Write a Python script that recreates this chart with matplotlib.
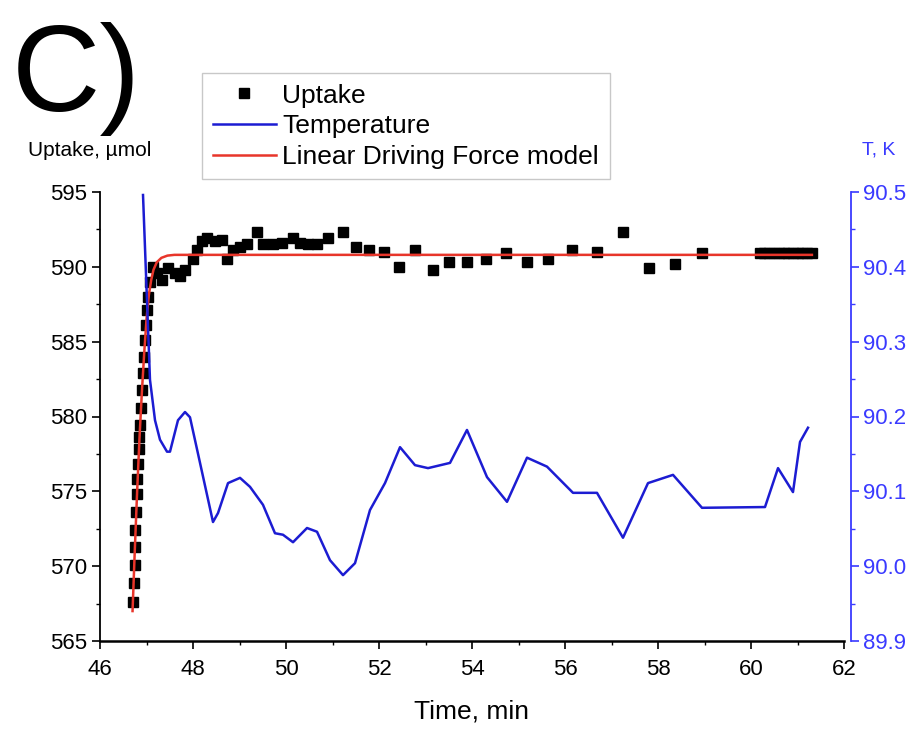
import matplotlib
matplotlib.use("Agg")
import matplotlib.pyplot as plt
from matplotlib.ticker import MultipleLocator
from matplotlib.lines import Line2D

plt.rcParams['font.family'] = ['Liberation Sans', 'DejaVu Sans']

# uptake measurements, min / umol
uptake_time = [46.710, 46.731, 46.742, 46.753, 46.763, 46.774, 46.796, 46.806, 46.817, 46.839,
               46.849, 46.860, 46.882, 46.903, 46.925, 46.946, 46.968, 46.989, 47.011, 47.032,
               47.08, 47.14, 47.23, 47.33, 47.46, 47.61, 47.72, 47.83, 48.00,
               48.09, 48.19, 48.30, 48.47, 48.62, 48.73, 48.86, 49.01, 49.16, 49.38,
               49.51, 49.72, 49.91, 50.15, 50.30, 50.47, 50.67, 50.90, 51.23, 51.51,
               51.78, 52.11, 52.43, 52.77, 53.16, 53.51, 53.89, 54.30, 54.73, 55.18,
               55.63, 56.15, 56.69, 57.25, 57.81, 58.37, 58.95,
               60.19, 60.29, 60.39, 60.50, 60.60, 60.70, 60.80, 60.90, 61.00, 61.10, 61.20, 61.31]
uptake = [567.6, 568.9, 570.1, 571.3, 572.4, 573.6, 574.8, 575.8, 576.8, 577.8,
          578.6, 579.4, 580.6, 581.8, 582.9, 584.0, 585.1, 586.1, 587.1, 588.0,
          589.0, 590.0, 589.6, 589.1, 589.9, 589.6, 589.4, 589.8, 590.5,
          591.1, 591.7, 591.9, 591.7, 591.8, 590.5, 591.1, 591.3, 591.5, 592.3,
          591.5, 591.5, 591.6, 591.9, 591.6, 591.5, 591.5, 591.9, 592.3, 591.3,
          591.1, 591.0, 590.0, 591.1, 589.8, 590.3, 590.3, 590.5, 590.9, 590.3,
          590.5, 591.1, 591.0, 592.3, 589.9, 590.2, 590.9,
          590.9, 590.9, 590.9, 590.9, 590.9, 590.9, 590.9, 590.9, 590.9, 590.9, 590.9, 590.9]

# linear driving force fit
ldf_time = [46.70, 46.75, 46.80, 46.85, 46.90, 46.95, 47.00, 47.05, 47.10, 47.15,
            47.22, 47.32, 47.45, 47.60, 61.31]
ldf_uptake = [567.0, 571.2, 575.1, 578.6, 581.6, 584.2, 586.5, 588.1, 589.1, 589.8,
              590.3, 590.6, 590.75, 590.8, 590.8]

# sample temperature, K
temp_time = [46.925, 47.075, 47.183, 47.290, 47.441, 47.505, 47.677, 47.828, 47.935, 48.151,
             48.430, 48.538, 48.753, 49.011, 49.226, 49.505, 49.763, 49.935, 50.151, 50.452,
             50.667, 50.946, 51.226, 51.484, 51.806, 52.129, 52.452, 52.774, 53.054, 53.527,
             53.892, 54.323, 54.753, 55.183, 55.613, 56.172, 56.688, 57.247, 57.785, 58.323,
             58.946, 60.301, 60.581, 60.903, 61.054, 61.226]
temperature = [90.496, 90.249, 90.195, 90.169, 90.153, 90.153, 90.195, 90.206, 90.199, 90.138,
               90.059, 90.071, 90.111, 90.118, 90.106, 90.082, 90.044, 90.042, 90.032, 90.051,
               90.046, 90.008, 89.988, 90.004, 90.075, 90.111, 90.159, 90.135, 90.131, 90.138,
               90.182, 90.119, 90.086, 90.145, 90.133, 90.098, 90.098, 90.038, 90.111, 90.122,
               90.078, 90.079, 90.131, 90.099, 90.166, 90.185]

blue_line = '#1c1cd2'
blue_axis = '#3a3aff'
red_line = '#e8352a'

fig = plt.figure(figsize=(9.2, 7.29), dpi=100)
ax = fig.add_axes([100 / 920, 1 - 641 / 729, 744 / 920, 449 / 729])
ax2 = ax.twinx()

ax.plot(uptake_time, uptake, linestyle='none', marker='s', markersize=7,
        color='black', zorder=2)
ax.plot(ldf_time, ldf_uptake, color=red_line, linewidth=1.8, zorder=3)
ax2.plot(temp_time, temperature, color=blue_line, linewidth=1.8)

ax.set_xlim(46, 62)
ax.set_ylim(565, 595)
ax2.set_ylim(89.9, 90.5)

ax.xaxis.set_major_locator(MultipleLocator(2))
ax.xaxis.set_minor_locator(MultipleLocator(1))
ax.yaxis.set_major_locator(MultipleLocator(5))
ax.yaxis.set_minor_locator(MultipleLocator(2.5))
ax2.yaxis.set_major_locator(MultipleLocator(0.1))
ax2.yaxis.set_minor_locator(MultipleLocator(0.05))
ax2.yaxis.set_major_formatter(matplotlib.ticker.FormatStrFormatter('%.1f'))

for s in ['top', 'right']:
    ax.spines[s].set_visible(False)
for s in ['top', 'left', 'bottom']:
    ax2.spines[s].set_visible(False)
ax.spines['left'].set_linewidth(1.3)
ax.spines['bottom'].set_linewidth(1.8)
ax2.spines['right'].set_color(blue_axis)
ax2.spines['right'].set_linewidth(1.3)
ax2.spines['right'].set_position(('outward', 5))

ax.tick_params(which='major', direction='out', length=6, width=1.2, labelsize=16, pad=3)
ax.tick_params(which='minor', direction='out', length=3, width=1.0)
ax.tick_params(axis='x', which='major', pad=7)
ax2.tick_params(which='major', direction='out', length=6, width=1.2, labelsize=16,
                color=blue_axis, labelcolor=blue_axis, pad=3)
ax2.tick_params(which='minor', direction='out', length=3, width=1.0, color=blue_axis)

ax.set_xlabel('Time, min', fontsize=19, labelpad=14)
fig.text(151 / 920, 1 - 150 / 729, 'Uptake, \u00b5mol', fontsize=15, ha='right', va='center')
fig.text(862 / 920, 1 - 150 / 729, 'T, K', fontsize=14, ha='left', va='center', color=blue_axis)
fig.text(12 / 920, 1 - 22 / 729, 'C)', fontsize=88, ha='left', va='top')

handles = [Line2D([], [], linestyle='none', marker='s', markersize=7, color='black'),
           Line2D([], [], color=blue_line, linewidth=1.8),
           Line2D([], [], color=red_line, linewidth=1.8)]
labels = ['Uptake', 'Temperature', 'Linear Driving Force model']
leg = fig.legend(handles, labels, loc='upper left', bbox_to_anchor=(202 / 920, 1 - 73 / 729),
                 fontsize=19, frameon=True, fancybox=False, edgecolor='#c8c8c8',
                 framealpha=1, borderaxespad=0, handlelength=2.4, handletextpad=0.25,
                 labelspacing=0.25, borderpad=0.4)
leg.get_frame().set_linewidth(1.0)

fig.savefig('out.png', dpi=100)
